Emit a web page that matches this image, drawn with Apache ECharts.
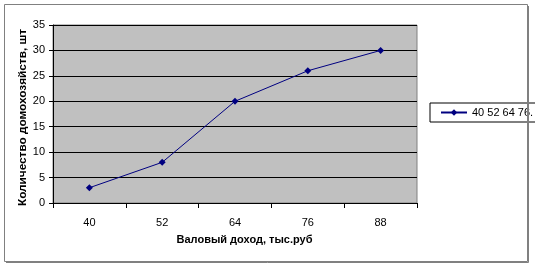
<!DOCTYPE html>
<html><head><meta charset="utf-8">
<script src="https://cdn.jsdelivr.net/npm/echarts@6/dist/echarts.min.js"></script>
<style>html,body{margin:0;padding:0;background:#fff}#c{width:535px;height:268px}</style>
</head><body><div id="c"></div>
<script>
const categories = ['40', '52', '64', '76', '88'];
const households = [3, 8, 20, 26, 30];
const seriesName = '40 52 64 76.';
const yTitle = 'Количество домохозяйств, шт';
const xTitle = 'Валовый доход, тыс.руб';

const chart = echarts.init(document.getElementById('c'));
const font = 'Liberation Sans, Arial, sans-serif';
chart.setOption({
  animation: false,
  backgroundColor: '#fff',
  graphic: [
    {type: 'rect', shape: {x: 4.5, y: 4.5, width: 523, height: 257}, style: {fill: 'none', stroke: '#808080', lineWidth: 1}, z: 100},
    {type: 'line', shape: {x1: 528.5, y1: 6, x2: 528.5, y2: 262.5}, style: {stroke: '#808080', lineWidth: 1}, z: 100},
    {type: 'line', shape: {x1: 6, y1: 262.5, x2: 528.5, y2: 262.5}, style: {stroke: '#808080', lineWidth: 1}, z: 100},
    {type: 'text', x: 244.5, y: 240, style: {text: xTitle, font: 'bold 11px Liberation Sans, Arial, sans-serif', fill: '#000', align: 'center', verticalAlign: 'middle'}},
    {type: 'text', x: 22.5, y: 117.5, rotation: Math.PI / 2, style: {text: yTitle, font: 'bold 11.8px Liberation Sans, Arial, sans-serif', fill: '#000', align: 'center', verticalAlign: 'middle'}}
  ],
  grid: {left: 53, top: 25, right: 118, bottom: 65, show: true, backgroundColor: '#C0C0C0', borderColor: '#808080', borderWidth: 1},
  legend: {
    left: 430, top: 103, width: 98, height: 20,
    padding: [4, 6, 4, 10],
    borderColor: '#000', borderWidth: 1,
    itemWidth: 26, itemHeight: 8, itemGap: 4,
    textStyle: {fontFamily: font, fontSize: 11, color: '#000'},
    data: [{name: seriesName}]
  },
  xAxis: {
    type: 'category', data: categories, boundaryGap: true,
    axisLine: {lineStyle: {color: '#000', width: 1}},
    axisTick: {show: true, length: 5, inside: false, lineStyle: {color: '#000'}},
    axisLabel: {fontFamily: font, fontSize: 11, color: '#000', margin: 14},
    splitLine: {show: false}
  },
  yAxis: {
    type: 'value', min: 0, max: 35, interval: 5,
    axisLine: {show: true, lineStyle: {color: '#000', width: 1}},
    axisTick: {show: true, length: 4, lineStyle: {color: '#000'}},
    axisLabel: {fontFamily: font, fontSize: 11, color: '#000', margin: 8},
    splitLine: {show: true, lineStyle: {color: '#000', width: 1}}
  },
  series: [{
    name: seriesName, type: 'line', data: households,
    symbol: 'diamond', symbolSize: 7,
    lineStyle: {color: '#000080', width: 1},
    itemStyle: {color: '#000080'}
  }]
});
</script></body></html>
